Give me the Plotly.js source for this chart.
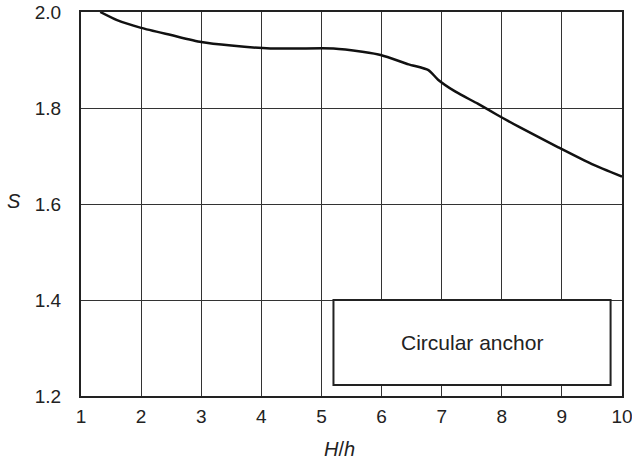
<!DOCTYPE html>
<html>
<head>
<meta charset="utf-8">
<script src="https://cdn.plot.ly/plotly-3.0.1.min.js"></script>
<style>html,body{margin:0;padding:0;background:#fff;}#chart{width:632px;height:459px;}</style>
</head>
<body>
<div id="chart"></div>
<script>
// Curve: S versus H/h for circular anchor
const ratioHh = [1.32, 1.6, 2.0, 2.5, 3.0, 3.5, 4.15, 4.6, 5.2, 5.68, 6.0, 6.45, 6.78, 6.94, 7.23, 7.6, 7.92, 8.28, 8.94, 9.5, 10.0];
const sValues = [2.0, 1.983, 1.967, 1.952, 1.9375, 1.930, 1.924, 1.924, 1.924, 1.917, 1.910, 1.891, 1.879, 1.859, 1.834, 1.809, 1.786, 1.761, 1.718, 1.683, 1.657];
const xTicks = [1, 2, 3, 4, 5, 6, 7, 8, 9, 10];
const yTicks = [1.2, 1.4, 1.6, 1.8, 2.0];
const yTickText = ['1.2', '1.4', '1.6', '1.8', '2.0'];
const boxLabel = 'Circular anchor';
const boxX = [5.2, 9.81];
const boxY = [1.223, 1.4];
const xTitle = '<i>H</i>/<i>h</i>';
const yTitle = '<i>S</i>';

const font = {family: 'Liberation Sans, Arial, sans-serif', size: 19, color: '#222'};

const trace = {
  x: ratioHh, y: sValues, type: 'scatter', mode: 'lines',
  line: {color: '#111', width: 2.5, shape: 'spline', smoothing: 0.6},
  cliponaxis: false, hoverinfo: 'skip'
};

const layout = {
  width: 632, height: 459,
  margin: {l: 81, r: 10, t: 12, b: 63},
  paper_bgcolor: '#fff', plot_bgcolor: '#fff',
  showlegend: false,
  font: font,
  xaxis: {
    range: [1, 10], tickvals: xTicks, ticktext: xTicks.map(String),
    showgrid: true, gridcolor: '#333', gridwidth: 1,
    showline: true, linecolor: '#222', linewidth: 2, mirror: true,
    ticks: '', ticklabelstandoff: 2, ticklabeloverflow: 'allow',
    zeroline: false, tickfont: font
  },
  yaxis: {
    range: [1.2, 2.0], tickvals: yTicks, ticktext: yTickText,
    showgrid: true, gridcolor: '#333', gridwidth: 1,
    showline: true, linecolor: '#222', linewidth: 2, mirror: true,
    ticks: '', ticklabelstandoff: 14, zeroline: false, tickfont: font
  },
  shapes: [{
    type: 'rect', xref: 'x', yref: 'y',
    x0: boxX[0], x1: boxX[1], y0: boxY[0], y1: boxY[1],
    line: {color: '#222', width: 2}, fillcolor: '#fff', layer: 'above'
  }],
  annotations: [
    {text: boxLabel, xref: 'x', yref: 'y', x: (boxX[0] + boxX[1]) / 2, y: (boxY[0] + boxY[1]) / 2,
     showarrow: false, font: {family: font.family, size: 21, color: '#222'}, xanchor: 'center', yanchor: 'middle'},
    {text: xTitle, xref: 'paper', yref: 'paper', x: 0.477, y: -0.138, showarrow: false,
     font: {family: font.family, size: 20, color: '#222'}, xanchor: 'center', yanchor: 'middle'},
    {text: yTitle, xref: 'paper', yref: 'y', x: -0.124, y: 1.606, showarrow: false,
     font: {family: font.family, size: 20, color: '#222'}, xanchor: 'center', yanchor: 'middle'}
  ]
};

Plotly.newPlot('chart', [trace], layout, {staticPlot: true, displayModeBar: false});
</script>
</body>
</html>
